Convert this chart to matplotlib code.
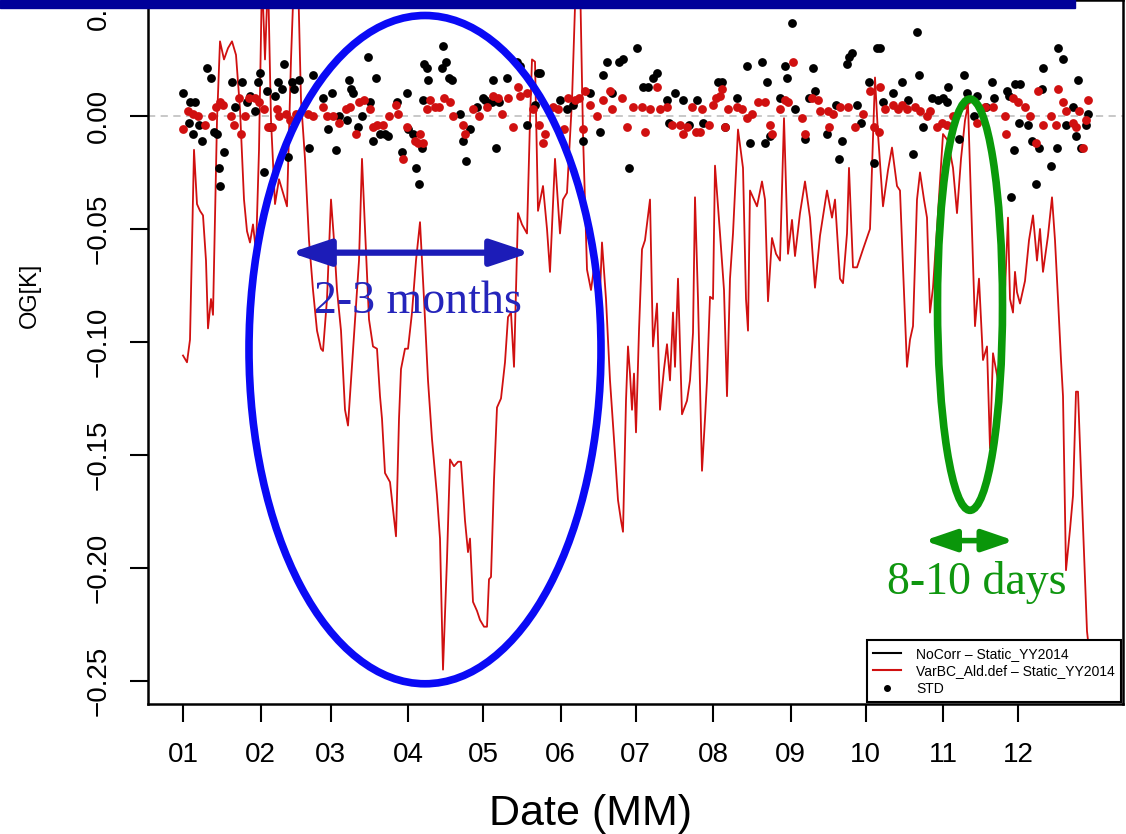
import matplotlib
matplotlib.use('Agg')
import matplotlib.pyplot as plt
from matplotlib.patches import Ellipse, FancyArrowPatch, Rectangle, ArrowStyle
from matplotlib.lines import Line2D

# month starts (day of year) and labels
month_days = [0, 31, 59, 90, 120, 151, 181, 212, 243, 273, 304, 334]
month_labels = ['01', '02', '03', '04', '05', '06', '07', '08', '09', '10', '11', '12']
y_ticks = [-0.25, -0.20, -0.15, -0.10, -0.05, 0.00, 0.05]

# VarBC_Ald.def - Static_YY2014 (red line), (day, OG[K])
varbc_line = [
    (0, -0.106), (1.6, -0.109), (2.8, -0.099), (4.4, -0.015), (5.6, -0.039), (6.8, -0.042), (8, -0.044),
    (9.2, -0.064), (10, -0.094), (11.2, -0.081), (12, -0.088), (13.6, -0.002), (14.8, 0.033), (16.4, 0.025),
    (18, 0.030), (19.6, 0.033), (21.2, 0.027), (22.8, 0.003), (24.4, -0.037), (25.6, -0.051), (26.8, -0.056),
    (28, -0.048), (29.2, -0.060), (30.4, -0.015), (31.6, 0.062), (32.8, 0.025), (34, 0.062), (35.2, -0.002),
    (36.8, -0.039), (38.4, -0.028), (40, -0.034), (41.6, -0.040), (43.2, 0.025), (44.4, 0.062), (46, 0.062),
    (47.2, 0.007), (48.8, -0.019), (50.4, -0.055), (52, -0.077), (53.6, -0.095), (55.2, -0.103), (56, -0.104),
    (57.6, -0.081), (59.2, -0.037), (60.4, -0.055), (61.6, -0.077), (63.2, -0.095), (64.8, -0.130), (66, -0.137),
    (67.2, -0.117), (68.8, -0.090), (70.4, -0.064), (71.6, -0.019), (72.8, -0.050), (74.4, -0.090), (76, -0.102),
    (77.6, -0.103), (78.8, -0.124), (79.6, -0.134), (80.8, -0.158), (82.8, -0.162), (84, -0.174), (85.2, -0.186),
    (86.4, -0.134), (87.2, -0.112), (88.8, -0.103), (90, -0.103), (91.6, -0.087), (93.2, -0.064), (94.8, -0.047),
    (96.4, -0.081), (98, -0.117), (99.6, -0.143), (101.6, -0.168), (102.8, -0.187), (104, -0.245), (105.6, -0.196),
    (106.8, -0.152), (108.4, -0.155), (110, -0.153), (111.2, -0.153), (112.8, -0.179), (114, -0.193), (114.8, -0.187),
    (116, -0.215), (117.6, -0.219), (118.8, -0.223), (120.4, -0.226), (121.6, -0.226), (122.4, -0.205), (123.2, -0.204),
    (124.4, -0.161), (125.6, -0.129), (127.2, -0.125), (128.8, -0.109), (130, -0.089), (131.2, -0.087), (132.4, -0.111),
    (134, -0.043), (135.6, -0.048), (137.6, -0.052), (138.8, -0.002), (139.6, 0.025), (140.8, 0.024), (142, -0.042),
    (144, -0.031), (145.6, -0.050), (146.8, -0.069), (148.8, -0.019), (150.8, -0.052), (152, -0.037), (153.6, -0.034),
    (155.6, 0.007), (157.2, 0.062), (158.8, 0.062), (160, -0.008), (161.6, -0.068), (163.2, -0.077), (164.8, -0.064),
    (166.4, -0.090), (167.6, -0.056), (169.2, -0.081), (170.8, -0.117), (172.4, -0.143), (174, -0.170), (175.2, -0.179),
    (176, -0.184), (177.2, -0.126), (178, -0.102), (178.8, -0.114), (179.6, -0.130), (180.4, -0.114), (181.2, -0.140),
    (182.4, -0.095), (183.6, -0.059), (184.8, -0.055), (186.8, -0.037), (188, -0.102), (189.6, -0.083), (190.8, -0.130),
    (192.4, -0.112), (193.6, -0.101), (194.8, -0.117), (196, -0.087), (196.8, -0.111), (198, -0.072), (199.6, -0.132),
    (201.6, -0.126), (202.8, -0.117), (204, -0.096), (204.8, -0.036), (206, -0.081), (207.6, -0.157), (208.8, -0.134),
    (209.6, -0.117), (210.8, -0.080), (212, -0.081), (212.8, -0.022), (214.8, -0.052), (216.4, -0.077), (217.6, -0.124),
    (218.8, -0.072), (220, -0.052), (222, -0.006), (224, -0.023), (225.2, -0.081), (226, -0.095), (226.8, -0.033),
    (228.4, -0.037), (229.6, -0.040), (231.6, -0.029), (232.8, -0.037), (234, -0.082), (235.6, -0.054), (237.2, -0.061),
    (238.8, -0.064), (240.4, -0.001), (242, -0.061), (243.6, -0.046), (244.8, -0.062), (246.8, -0.043), (248.8, -0.029),
    (250.8, -0.045), (252.8, -0.076), (254.8, -0.053), (257.6, -0.033), (259.6, -0.045), (260.8, -0.037), (262.8, -0.072),
    (264, -0.074), (265.6, -0.052), (266.4, -0.023), (268, -0.067), (269.6, -0.067), (272, -0.059), (274.8, -0.050),
    (276.8, 0.017), (278, -0.008), (280, -0.040), (282, -0.024), (283.6, -0.014), (285.6, -0.031), (286.8, -0.033),
    (288, -0.067), (289.6, -0.111), (290.8, -0.099), (292, -0.093), (293.6, -0.037), (294.8, -0.025), (296.4, -0.037),
    (297.6, -0.045), (298.8, -0.087), (300, -0.076), (302, -0.043), (304, -0.008), (306, -0.011), (308, -0.023),
    (309.6, -0.043), (311.2, -0.019), (312.8, -0.002), (314, 0.005), (315.2, -0.037), (316.8, -0.093), (318.4, -0.072),
    (320, -0.108), (321.6, -0.102), (322.8, -0.147), (324, -0.105), (326, -0.117), (328, -0.099), (330, -0.045),
    (330.8, -0.081), (332, -0.087), (332.8, -0.069), (333.6, -0.078), (334.8, -0.083), (336.8, -0.073), (338.4, -0.055),
    (340, -0.044), (341.6, -0.064), (342.8, -0.050), (344, -0.069), (346, -0.053), (347.6, -0.036), (348.8, -0.055),
    (350, -0.081), (351.2, -0.108), (352, -0.124), (353.2, -0.201), (354.8, -0.183), (356, -0.168), (357.2, -0.122),
    (358, -0.122), (359.6, -0.170), (361.6, -0.228), (362.8, -0.240), (364, -0.258),
]

# black points (NoCorr)
nocorr_pts = [
    (0, 0.010), (2.4, -0.003), (2.8, 0.006), (4, -0.008), (4.8, 0.006), (6.4, -0.004), (7.6, -0.011), (9.6, 0.021),
    (11.2, 0.017), (12.4, -0.007), (13.6, -0.008), (14.4, -0.023), (14.8, -0.031), (16.4, -0.016), (19.6, 0.015),
    (20.8, 0.004), (23.6, 0.015), (25.6, 0.006), (26.8, 0.009), (28.8, 0.002), (30, 0.015), (30.8, 0.019),
    (32.4, -0.025), (33.6, 0.011), (34.8, -0.005), (36.8, 0.009), (38, 0.015), (39.6, 0.012), (40.4, 0.023),
    (42, -0.018), (43.6, 0.015), (44.4, 0.012), (46.4, 0.016), (50.4, -0.014), (52, 0.018), (56, 0.008),
    (58, -0.006), (59.6, 0.010), (61.2, -0.015), (62.4, 0.000), (65.6, -0.002), (66.4, 0.016), (67.2, 0.012),
    (68, 0.010), (70, -0.005), (71.6, 0.000), (74, 0.026), (74.8, 0.006), (76, -0.011), (77.2, 0.017),
    (78.8, -0.008), (80.8, -0.008), (82, -0.009), (85.6, 0.006), (87.6, -0.016), (89.6, 0.010), (90, -0.006),
    (92, -0.008), (93.2, -0.023), (94.4, -0.030), (95.6, -0.014), (96, 0.007), (96.4, 0.023), (97.6, 0.021),
    (98, 0.016), (103.6, 0.021), (104, 0.031), (105.2, 0.024), (106.4, 0.017), (107.6, 0.016), (110.8, 0.001),
    (112, -0.011), (113.2, -0.020), (114.8, -0.006), (117.6, 0.004), (120, 0.008), (120.8, 0.007), (123.6, 0.006),
    (124, 0.016), (125.2, -0.014), (126.4, 0.006), (129.6, 0.017), (133.6, 0.024), (134.8, 0.022), (137.6, -0.004),
    (140.8, 0.005), (142, 0.019), (142.8, 0.019), (150.8, 0.007), (153.6, 0.003), (156, 0.005), (160, -0.011),
    (162.8, 0.010), (166.8, -0.007), (168, 0.018), (169.6, 0.024), (171.6, 0.010), (174.4, 0.024), (176, 0.025),
    (178.4, -0.023), (181.6, 0.030), (184, 0.013), (186, 0.013), (188, 0.017), (189.6, 0.019), (193.6, 0.007),
    (194.4, -0.003), (196.8, 0.010), (200, 0.007), (202.4, -0.004), (205.6, 0.007), (208, -0.003), (214, 0.015),
    (215.6, 0.015), (216.8, -0.005), (221.6, 0.008), (225.6, 0.022), (226.8, -0.012), (231.6, 0.024), (232.8, -0.012),
    (233.6, 0.015), (234.8, -0.009), (238.8, 0.008), (240.8, 0.022), (241.6, 0.017), (243.6, 0.041), (244.8, 0.003),
    (248.8, -0.010), (250.4, 0.008), (252, 0.021), (252.8, 0.011), (257.6, -0.008), (261.2, 0.005), (262.4, -0.019),
    (263.6, -0.011), (265.6, 0.023), (266.4, 0.026), (267.6, 0.028), (269.6, 0.005), (271.2, -0.003), (274.4, 0.015),
    (276.4, -0.021), (277.6, 0.030), (278.8, 0.030), (280, 0.006), (284, 0.010), (287.6, 0.015), (290, 0.007),
    (292, -0.017), (293.6, 0.037), (294.4, 0.018), (296, -0.005), (299.6, 0.008), (302, 0.007), (304, 0.008),
    (305.6, 0.006), (306, 0.013), (310.4, -0.010), (312.4, 0.018), (313.6, 0.010), (316.4, 0.000), (317.6, 0.009),
    (321.2, 0.004), (323.6, 0.015), (324.4, 0.008), (329.6, 0.011), (330.4, 0.009), (331.2, -0.036), (332.4, -0.015),
    (332.8, 0.014), (334.4, -0.003), (334.8, 0.014), (338, -0.004), (339.6, -0.011), (341.2, -0.030), (342.4, -0.014),
    (343.6, 0.012), (344, 0.021), (347.2, -0.022), (349.6, -0.014), (350, 0.030), (352, 0.025), (353.2, -0.004),
    (356, 0.004), (357.2, -0.009), (358, 0.016), (359.2, -0.014), (361.2, -0.004), (362, 0.001),
]

# red points (VarBC_Ald.def)
varbc_pts = [
    (0, -0.006), (2, 0.002), (4, 0.001), (6, 0.000), (8.8, -0.004), (11.6, 0.000), (13.2, 0.004), (14.8, 0.006),
    (16, 0.005), (19.2, 0.000), (20.4, -0.004), (22.4, 0.008), (23.2, -0.008), (24.8, 0.000), (26.4, 0.008),
    (28.8, 0.008), (30.4, 0.006), (32.4, 0.003), (34, -0.005), (35.6, -0.005), (37.6, 0.003), (38.4, 0.000),
    (41.2, 0.001), (42.8, -0.002), (45.2, 0.001), (50, 0.001), (52, 0.000), (56, 0.004), (57.6, 0.000),
    (60, 0.000), (62.4, -0.003), (65.2, 0.003), (66.8, 0.004), (69.2, -0.008), (70.4, 0.006), (72.4, 0.007),
    (74.8, 0.003), (76, -0.005), (77.6, -0.004), (80, -0.004), (82.4, 0.000), (85.2, 0.005), (86, 0.001),
    (88, -0.019), (89.6, -0.005), (92.8, -0.011), (94, -0.012), (94.8, -0.008), (96, -0.012), (97.6, 0.003),
    (98.8, 0.007), (100.8, 0.004), (102.4, 0.004), (104.4, 0.008), (106.8, 0.006), (108, 0.000), (112, -0.004),
    (112.8, -0.008), (116, 0.003), (118.4, 0.000), (121.6, 0.004), (124, 0.009), (126, 0.008), (127.6, 0.001),
    (130, 0.008), (132, -0.005), (134, 0.013), (134.8, 0.009), (137.6, 0.010), (140, 0.003), (142.4, -0.004),
    (144, -0.012), (144.8, -0.008), (148, 0.004), (150, 0.003), (152.4, -0.006), (154, 0.008), (156.8, 0.007),
    (158.4, 0.008), (160, -0.006), (160.8, 0.011), (162.8, 0.005), (165.6, 0.000), (168, 0.007), (170.8, 0.011),
    (171.6, 0.003), (175.6, 0.008), (177.6, -0.005), (180, 0.004), (183.6, 0.004), (184.8, -0.007), (186.8, 0.003),
    (189.6, 0.013), (190.8, 0.003), (193.6, 0.004), (195.6, -0.004), (198.8, -0.004), (200, -0.008), (201.6, -0.005),
    (203.6, 0.004), (205.2, -0.007), (206.8, -0.007), (207.6, 0.003), (210.4, -0.004), (212, 0.005), (213.2, 0.008),
    (214.8, 0.009), (215.6, 0.012), (216.8, -0.005), (218, 0.003), (221.6, 0.004), (223.6, 0.003), (225.6, -0.001),
    (227.6, 0.001), (230, 0.006), (232.8, 0.006), (234.8, -0.004), (235.6, -0.008), (238.8, 0.003), (240.8, 0.007),
    (242, 0.006), (244, 0.024), (247.6, -0.001), (248.8, -0.008), (251.6, 0.008), (254, 0.007), (254.8, 0.002),
    (258, 0.002), (258.4, -0.005), (260, 0.001), (262.8, 0.004), (266, 0.004), (268.8, -0.005), (272, 0.001),
    (274.8, 0.011), (276.4, -0.005), (278.4, -0.007), (278.8, 0.013), (280.8, 0.003), (284, 0.005), (286, 0.003),
    (287.6, 0.005), (289.6, 0.003), (292.8, 0.004), (294.8, 0.002), (297.6, 0.000), (298.8, 0.002), (301.6, -0.005),
    (303.6, -0.003), (305.6, -0.004), (308, 0.000), (312, 0.005), (313.6, 0.007), (317.6, -0.003), (320.8, 0.004),
    (324, 0.004), (328.8, 0.000), (329.2, -0.008), (332, 0.008), (334, 0.006), (336.8, 0.004), (338.8, 0.000),
    (341.2, -0.012), (342, 0.011), (344, -0.004), (347.2, 0.000), (349.2, -0.004), (350, 0.012), (352, 0.006),
    (353.2, 0.002), (356, -0.003), (357.2, -0.005), (358.4, 0.002), (360, -0.014), (361.2, -0.002), (362, 0.007),
]

RED = '#d01010'
SANS = ['Liberation Sans', 'DejaVu Sans']
SERIF = ['Liberation Serif', 'DejaVu Serif']
plt.rcParams['font.family'] = SANS

W, H = 1126, 834
fig = plt.figure(figsize=(W / 100, H / 100), dpi=100)
ax = fig.add_axes([148 / W, 1 - 704 / H, (1123 - 148) / W, 704 / H])

ax.axhline(0, color='#c4c4c4', lw=1.3, ls=(0, (4, 3)), zorder=1)

lx, ly = zip(*varbc_line)
ax.plot(lx, ly, color=RED, lw=1.3, zorder=2)

bx, by = zip(*nocorr_pts)
ax.scatter(bx, by, s=40, color='black', linewidths=0, zorder=3)
rx, ry = zip(*varbc_pts)
ax.scatter(rx, ry, s=40, color=RED, linewidths=0, zorder=4)

ax.set_xlim(-14, 376)
ax.set_ylim(-0.2602, 0.0513)
ax.set_xticks(month_days)
ax.set_xticklabels(month_labels)
ax.set_yticks(y_ticks)
ax.set_yticklabels([('%.2f' % v).replace('-', '\u2212') for v in y_ticks])
ax.tick_params(axis='both', direction='out', length=13, width=1.5, labelsize=20)
ax.tick_params(axis='x', pad=14)
ax.tick_params(axis='y', pad=13)
for lab in ax.get_yticklabels():
    lab.set_rotation(90)
    lab.set_va('center')
for sp in ax.spines.values():
    sp.set_linewidth(1.8)

fig.text(591 / W, 1 - 825 / H, 'Date (MM)', fontsize=31, ha='center', va='baseline')
fig.text(30 / W, 1 - 295 / H, 'OG[K]', fontsize=17, rotation=90, ha='center', va='center')

handles = [Line2D([], [], color='black', lw=1.5),
           Line2D([], [], color=RED, lw=1.5),
           Line2D([], [], color='black', marker='o', ls='none', ms=4)]
labels = ['NoCorr \u2013 Static_YY2014', 'VarBC_Ald.def \u2013 Static_YY2014', 'STD']
leg = ax.legend(handles, labels, loc='lower right', fontsize=10, frameon=True, fancybox=False,
                edgecolor='black', framealpha=1, borderaxespad=0.15, handlelength=2.0,
                handletextpad=1.1, labelspacing=0.25, borderpad=0.45)
leg.get_frame().set_linewidth(1.5)
leg.set_zorder(6)

# annotations
ax.add_patch(Ellipse((96.8, -0.1034), 140.8, 0.2957, fill=False, ec='#0a0af5', lw=5.5, zorder=10))
ax.add_patch(Ellipse((314.8, -0.0835), 26, 0.182, fill=False, ec='#0a9a0a', lw=5.5, zorder=10))
blue_head = ArrowStyle('<|-|>', head_length=24, head_width=8)
green_head = ArrowStyle('<|-|>', head_length=19, head_width=6.5)
ax.add_patch(FancyArrowPatch((43, -0.0605), (139, -0.0605), arrowstyle=blue_head, mutation_scale=1,
                             lw=4.5, color='#1c1cb8', shrinkA=0, shrinkB=0, zorder=11))
ax.add_patch(FancyArrowPatch((296.5, -0.1879), (332.5, -0.1879), arrowstyle=green_head, mutation_scale=1,
                             lw=4, color='#0a960a', shrinkA=0, shrinkB=0, zorder=11))
ax.text(93.8, -0.0871, '2-3 months', family=SERIF, fontsize=33, color='#2424bb',
        ha='center', va='baseline', zorder=12)
ax.text(317.6, -0.2117, '8-10 days', family=SERIF, fontsize=33, color='#0f960f',
        ha='center', va='baseline', zorder=12)

# slide title bar cut off at the top
fig.patches.append(Rectangle((0, 1 - 8 / H), 1075 / W, 8 / H, transform=fig.transFigure,
                             color='#000099', zorder=20))

fig.savefig('out.png', dpi=100)
